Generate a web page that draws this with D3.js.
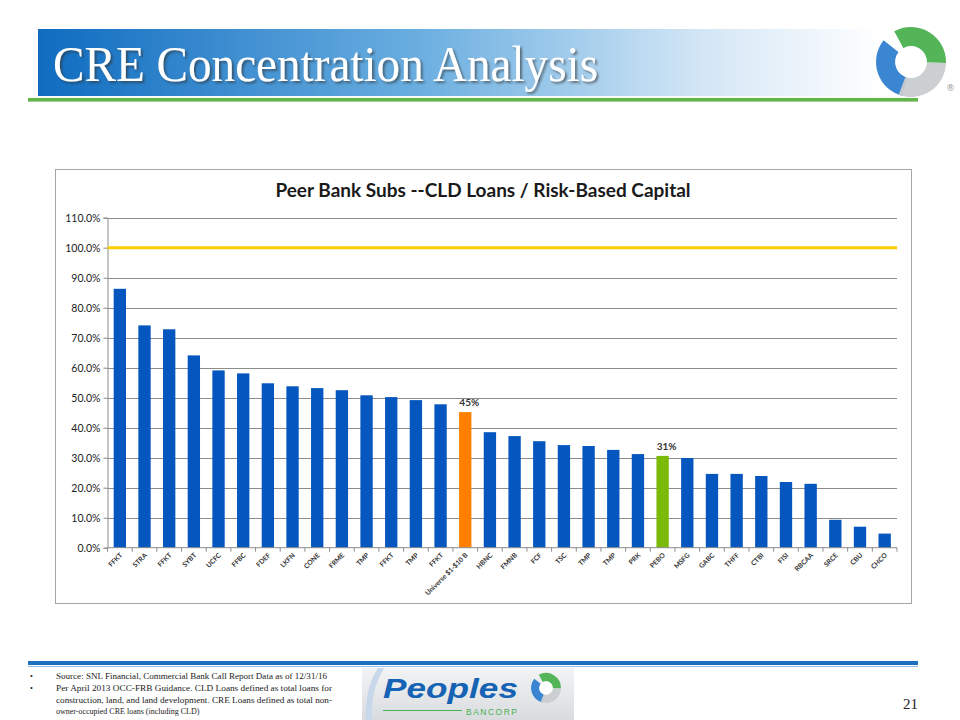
<!DOCTYPE html>
<html>
<head>
<meta charset="utf-8">
<script src="https://cdn.jsdelivr.net/npm/d3@7"></script>
<style>
  body { margin: 0; background: #fff; }
  svg { display: block; }
</style>
</head>
<body>
<div id="slide"></div>
<script>
// DATA
const banks = ["FFKT", "STRA", "FFKT", "SYBT", "UCFC", "FFBC", "FDEF", "LKFN", "CONE", "FRME",
  "TMP", "FFKT", "TMP", "FFKT", "Universe $1-$10 B", "HBNC", "FMNB", "FCF", "TSC", "TMP",
  "TMP", "PRK", "PEBO", "MSFG", "GABC", "THFF", "CTBI", "FISI", "RBCAA", "SRCE", "CBU", "CHCO"];
const ratios = [86.3, 74.1, 72.8, 64.1, 59.1, 58.1, 54.8, 53.8, 53.2, 52.5,
  50.8, 50.2, 49.2, 47.8, 45.2, 38.5, 37.2, 35.5, 34.2, 33.9,
  32.6, 31.2, 30.6, 29.9, 24.6, 24.6, 23.9, 21.9, 21.3, 9.3, 7.0, 4.7];
const yTicks = [0, 10, 20, 30, 40, 50, 60, 70, 80, 90, 100, 110];
const guidance = 100;
const highlights = { "Universe $1-$10 B": "45%", "PEBO": "31%" };
const notes = [
  "Source: SNL Financial, Commercial Bank Call Report Data as of 12/31/16",
  ["Per April 2013  OCC-FRB  Guidance.  CLD Loans defined as total loans for",
   "construction, land, and land development.  CRE Loans defined as total non-",
   "owner-occupied CRE loans (including CLD)"]
];

const W = 960, H = 720;
const svg = d3.select("#slide").append("svg").attr("width", W).attr("height", H);
const defs = svg.append("defs");

// HEADER
const hg = defs.append("linearGradient").attr("id", "hdr");
hg.append("stop").attr("offset", "0%").attr("stop-color", "#0f6cc0");
hg.append("stop").attr("offset", "45%").attr("stop-color", "#6aaee0");
hg.append("stop").attr("offset", "80%").attr("stop-color", "#d6e8f6");
hg.append("stop").attr("offset", "100%").attr("stop-color", "#ffffff");
svg.append("rect").attr("x", 38).attr("y", 29).attr("width", 842).attr("height", 67).attr("fill", "url(#hdr)");
svg.append("rect").attr("x", 28).attr("y", 98).attr("width", 890).attr("height", 3).attr("fill", "#5fb846");
svg.append("rect").attr("x", 28).attr("y", 101).attr("width", 890).attr("height", 1).attr("fill", "#a8c8a0");

const sh = defs.append("filter").attr("id", "shadow").attr("x", "-5%").attr("y", "-20%").attr("width", "110%").attr("height", "140%");
sh.append("feDropShadow").attr("dx", 2).attr("dy", 2).attr("stdDeviation", 1).attr("flood-color", "#333").attr("flood-opacity", 0.6);

svg.append("text").attr("x", 53).attr("y", 81)
  .attr("font-family", "Liberation Serif").attr("font-size", 50)
  .attr("textLength", 545).attr("lengthAdjust", "spacingAndGlyphs")
  .attr("fill", "#fff").attr("filter", "url(#shadow)")
  .text("CRE Concentration Analysis");

// swirl logo
function swirl(g, cx, cy, r, s) {
  const arc = d3.arc();
  const parts = [
    { a0: -2.9, a1: -0.9, c: "#2f7fd0" },
    { a0: -0.5, a1: 1.6, c: "#4bb04f" },
    { a0: 1.6, a1: 3.5, c: "#c9cdd0" }
  ];
  parts.forEach(p => {
    g.append("path")
      .attr("transform", `translate(${cx},${cy})`)
      .attr("d", arc({ innerRadius: r * 0.45, outerRadius: r, startAngle: p.a0, endAngle: p.a1 }))
      .attr("fill", p.c).attr("opacity", 0.95);
  });
  g.append("circle").attr("cx", cx).attr("cy", cy).attr("r", r * 0.45).attr("fill", "#fff").attr("opacity", s);
}
swirl(svg.append("g"), 911, 62, 35, 0.9);
svg.append("text").attr("x", 946).attr("y", 91).attr("font-family", "DejaVu Sans")
  .attr("font-size", 9).attr("fill", "#999").text("®");

// CHART
svg.append("rect").attr("x", 55.5).attr("y", 169.5).attr("width", 856).attr("height", 434)
  .attr("fill", "#fff").attr("stroke", "#a6a6a6");

svg.append("text").attr("x", 483).attr("y", 197).attr("text-anchor", "middle")
  .attr("font-family", "Lato").attr("font-weight", "bold").attr("font-size", 19)
  .attr("fill", "#1a1a1a").text("Peer Bank Subs --CLD Loans / Risk-Based Capital");

const x0 = 107.5, x1 = 897, yBot = 547.7, yTop = 217.7;
const x = d3.scaleBand().domain(d3.range(banks.length)).range([x0, x1]).paddingInner(0.5).paddingOuter(0.25);
const y = d3.scaleLinear().domain([0, 110]).range([yBot, yTop]);

const chart = svg.append("g");

// gridlines
chart.append("g").selectAll("line").data(yTicks.filter(d => d > 0)).join("line")
  .attr("x1", x0).attr("x2", x1).attr("y1", d => Math.round(y(d)) + 0.5).attr("y2", d => Math.round(y(d)) + 0.5)
  .attr("stroke", "#8c8c8c").attr("stroke-width", 1);

// y axis
const yAxis = chart.append("g").attr("transform", `translate(${x0},0)`)
  .call(d3.axisLeft(y).tickValues(yTicks).tickSize(4).tickFormat(d => d.toFixed(1) + "%"));
yAxis.select(".domain").attr("stroke", "#8c8c8c");
yAxis.selectAll(".tick line").attr("stroke", "#8c8c8c");
yAxis.selectAll(".tick text").attr("font-family", "Lato").attr("font-size", 10.5).attr("fill", "#222").attr("x", -7);

// bars
const colorOf = d => d === "Universe $1-$10 B" ? "#ff7f00" : d === "PEBO" ? "#7cba0a" : "#0556be";
chart.append("g").selectAll("rect").data(ratios).join("rect")
  .attr("x", (d, i) => x(i)).attr("width", x.bandwidth())
  .attr("y", d => y(d)).attr("height", d => yBot - y(d))
  .attr("fill", (d, i) => colorOf(banks[i]));

// 100% guidance line
chart.append("line").attr("x1", x0).attr("x2", x1).attr("y1", y(guidance)).attr("y2", y(guidance))
  .attr("stroke", "#ffcc00").attr("stroke-width", 3);

// data labels
chart.append("g").selectAll("text").data(banks.map((b, i) => ({ b, i })).filter(d => highlights[d.b])).join("text")
  .attr("x", d => x(d.i) + x.bandwidth() / 2 + 4).attr("y", d => y(ratios[d.i]) - 6)
  .attr("text-anchor", "middle").attr("font-family", "Lato").attr("font-weight", "bold")
  .attr("font-size", 10).attr("fill", "#333").text(d => highlights[d.b]);

// x axis
const xAxis = chart.append("g").attr("transform", `translate(0,${yBot})`);
xAxis.append("line").attr("x1", x0).attr("x2", x1).attr("stroke", "#8c8c8c");
xAxis.selectAll("line.tk").data(d3.range(banks.length + 1)).join("line").attr("class", "tk")
  .attr("x1", i => x0 + i * (x1 - x0) / banks.length).attr("x2", i => x0 + i * (x1 - x0) / banks.length)
  .attr("y1", 0).attr("y2", 4).attr("stroke", "#8c8c8c");
xAxis.selectAll("text").data(banks).join("text")
  .attr("transform", (d, i) => `translate(${x(i) + x.bandwidth() / 2 + 3},8) rotate(-45)`)
  .attr("text-anchor", "end").attr("font-family", "Lato").attr("font-weight", "bold")
  .attr("font-size", 6.8).attr("fill", "#333").text(d => d);

// FOOTER
svg.append("rect").attr("x", 28).attr("y", 661).attr("width", 890).attr("height", 4).attr("fill", "#1f6fc0");
svg.append("rect").attr("x", 28).attr("y", 666).attr("width", 890).attr("height", 1).attr("fill", "#9bbbe0");

const fg = defs.append("linearGradient").attr("id", "logoBg").attr("x1", 0).attr("x2", 0).attr("y1", 0).attr("y2", 1);
fg.append("stop").attr("offset", "0%").attr("stop-color", "#f2f3f4");
fg.append("stop").attr("offset", "100%").attr("stop-color", "#d9dcdf");
svg.append("rect").attr("x", 362).attr("y", 668).attr("width", 212).attr("height", 52).attr("fill", "url(#logoBg)");
svg.append("path").attr("d", "M378,668 Q364,690 366,720 L372,720 Q370,692 384,668 Z").attr("fill", "#c8d8ea");
svg.append("text").attr("x", 383).attr("y", 698).attr("font-family", "Liberation Sans").attr("font-style", "italic")
  .attr("font-weight", "bold").attr("font-size", 28).attr("fill", "#1662b4")
  .attr("textLength", 135).attr("lengthAdjust", "spacingAndGlyphs").text("Peoples");
svg.append("line").attr("x1", 383).attr("x2", 462).attr("y1", 710.5).attr("y2", 710.5).attr("stroke", "#4bb04f").attr("stroke-width", 1.2);
svg.append("text").attr("x", 466).attr("y", 715).attr("font-family", "Liberation Sans")
  .attr("font-size", 8.5).attr("letter-spacing", 1.5).attr("fill", "#4bb04f").text("BANCORP");
swirl(svg.append("g"), 546, 688, 15, 0.9);

const ft = svg.append("g").attr("font-family", "Liberation Serif").attr("font-size", 8).attr("fill", "#222");
ft.append("text").attr("x", 30).attr("y", 679).text("•");
ft.append("text").attr("x", 56).attr("y", 679).attr("textLength", 271).attr("lengthAdjust", "spacingAndGlyphs").text(notes[0]);
ft.append("text").attr("x", 30).attr("y", 691).text("•");
notes[1].forEach((t, i) => {
  const tx = ft.append("text").attr("x", 56).attr("y", 691 + i * 11.5).text(t);
  if (i < 2) tx.attr("textLength", 276).attr("lengthAdjust", "spacingAndGlyphs");
});

svg.append("text").attr("x", 903).attr("y", 709).attr("font-family", "Liberation Serif")
  .attr("font-size", 15).attr("fill", "#222").text("21");
</script>
</body>
</html>
